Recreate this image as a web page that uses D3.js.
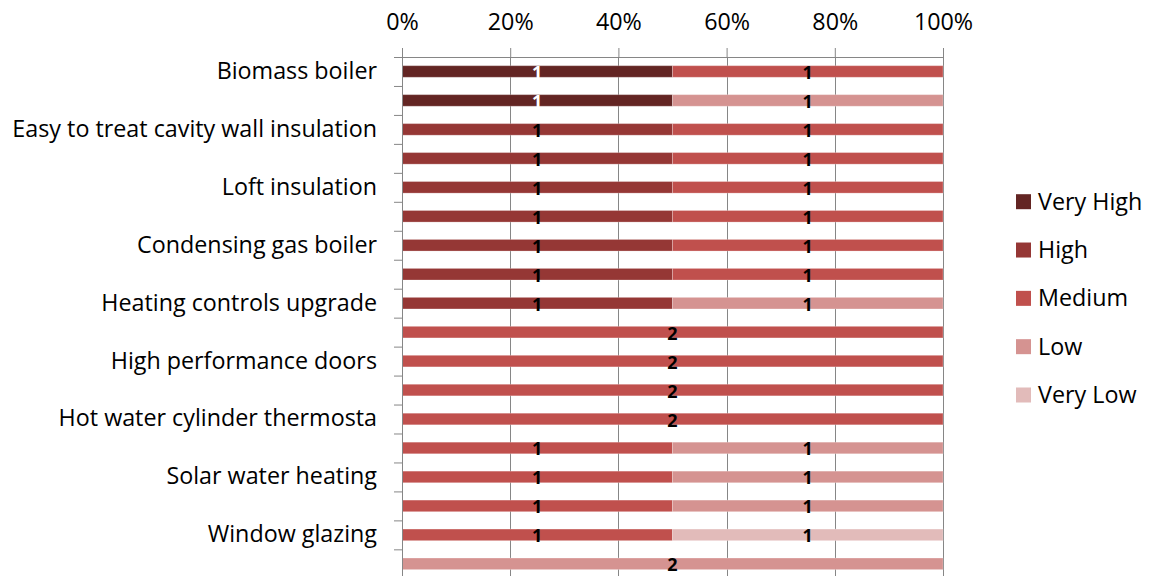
<!DOCTYPE html>
<html>
<head>
<meta charset="utf-8">
<script src="https://cdn.jsdelivr.net/npm/d3@7"></script>
<style>
  body { margin: 0; background: #fff; }
  svg { display: block; font-family: "Open Sans", Lato, sans-serif; }
</style>
</head>
<body>
<svg id="chart" width="1150" height="576"></svg>
<script>
// Measures, top to bottom; only every other row carries a label
const rowLabels = [
  "Biomass boiler", "",
  "Easy to treat cavity wall insulation", "",
  "Loft insulation", "",
  "Condensing gas boiler", "",
  "Heating controls upgrade", "",
  "High performance doors", "",
  "Hot water cylinder thermosta", "",
  "Solar water heating", "",
  "Window glazing", ""
];
const levels = ["Very High", "High", "Medium", "Low", "Very Low"];

// Counts per rating level, one entry per row
const veryHigh = [1,1,0,0,0,0,0,0,0,0,0,0,0,0,0,0,0,0];
const high     = [0,0,1,1,1,1,1,1,1,0,0,0,0,0,0,0,0,0];
const medium   = [1,0,1,1,1,1,1,1,0,2,2,2,2,1,1,1,1,0];
const low      = [0,1,0,0,0,0,0,0,1,0,0,0,0,1,1,1,0,2];
const veryLow  = [0,0,0,0,0,0,0,0,0,0,0,0,0,0,0,0,1,0];

const xTicks = [0, 0.2, 0.4, 0.6, 0.8, 1];
const levelColors = ["#632523", "#953735", "#C0504D", "#D59391", "#E2BBBA"];

const series = [veryHigh, high, medium, low, veryLow];
const rows = rowLabels.map((label, i) => {
  const r = { row: i };
  levels.forEach((lv, k) => { r[lv] = series[k][i]; });
  return r;
});

const svg = d3.select("#chart");
const plotLeft = 402, plotRight = 943, plotTop = 57, plotBottom = 578.3;
const font = "'Open Sans', Lato, sans-serif";
const textSize = 23.3;

const x = d3.scaleLinear().domain([0, 1]).range([plotLeft, plotRight]);
const y = d3.scaleBand().domain(d3.range(rows.length)).range([plotTop, plotBottom])
  .paddingInner(0.6).paddingOuter(0.3);
const color = d3.scaleOrdinal().domain(levels).range(levelColors);

const stacked = d3.stack().keys(levels).offset(d3.stackOffsetExpand)(rows);

const axisGrey = "#868686";

// vertical gridlines
svg.append("g").selectAll("line").data(xTicks).join("line")
  .attr("x1", d => Math.round(x(d)) + 0.5).attr("x2", d => Math.round(x(d)) + 0.5)
  .attr("y1", plotTop).attr("y2", 576)
  .attr("stroke", axisGrey).attr("stroke-width", 1);

// stacked bars
const layer = svg.append("g").selectAll("g").data(stacked).join("g")
  .attr("fill", d => color(d.key));
layer.selectAll("rect").data(d => d.filter(s => s[1] - s[0] > 0)).join("rect")
  .attr("x", d => x(d[0]))
  .attr("width", d => x(d[1]) - x(d[0]))
  .attr("y", d => y(d.data.row))
  .attr("height", y.bandwidth())
  .attr("stroke", "#fff").attr("stroke-opacity", 0.25).attr("stroke-width", 1);

// value labels
const labelLayer = svg.append("g");
stacked.forEach(s => {
  s.forEach(seg => {
    const v = seg.data[s.key];
    if (!v) return;
    labelLayer.append("text")
      .attr("x", x((seg[0] + seg[1]) / 2))
      .attr("y", y(seg.data.row) + y.bandwidth() / 2 + 7.5)
      .attr("text-anchor", "middle")
      .attr("font-family", font)
      .attr("font-size", 18).attr("font-weight", "bold")
      .attr("fill", s.key === "Very High" ? "#fff" : "#000")
      .text(v);
  });
});

// top value axis
const xAxis = svg.append("g").attr("transform", `translate(0,${plotTop})`)
  .call(d3.axisTop(x).tickValues(xTicks).tickFormat(d3.format(".0%"))
    .tickSize(9).tickPadding(18).tickSizeOuter(0));
xAxis.select(".domain").attr("stroke", axisGrey);
xAxis.selectAll(".tick line").attr("stroke", axisGrey);
xAxis.selectAll("text").attr("font-size", textSize).attr("fill", "#000")
  .attr("font-family", font);

// category axis: boundary ticks
const yEdges = d3.scaleLinear().domain([0, rows.length]).range([plotTop, plotBottom]);
const yTicks = svg.append("g").attr("transform", `translate(${plotLeft},0)`)
  .call(d3.axisLeft(yEdges).tickValues(d3.range(rows.length + 1)).tickFormat("").tickSize(8).tickSizeOuter(0));
yTicks.select(".domain").attr("stroke", axisGrey);
yTicks.selectAll(".tick line").attr("stroke", axisGrey);

// category labels
const yAxis = svg.append("g").attr("transform", `translate(${plotLeft},0)`)
  .call(d3.axisLeft(y).tickFormat(i => rowLabels[i]).tickSize(0).tickPadding(25));
yAxis.select(".domain").remove();
yAxis.selectAll("text").attr("font-size", textSize).attr("fill", "#000")
  .attr("font-family", font);

// legend
const legend = svg.append("g").attr("transform", "translate(1016,0)");
const legendY = d3.scalePoint().domain(levels).range([201.7, 395]);
const item = legend.selectAll("g").data(levels).join("g")
  .attr("transform", d => `translate(0,${legendY(d)})`);
item.append("rect").attr("x", 0).attr("y", -7.5).attr("width", 15).attr("height", 15)
  .attr("fill", d => color(d));
item.append("text").attr("x", 22).attr("y", 8)
  .attr("font-family", font)
  .attr("font-size", textSize).attr("fill", "#000").text(d => d);
</script>
</body>
</html>
